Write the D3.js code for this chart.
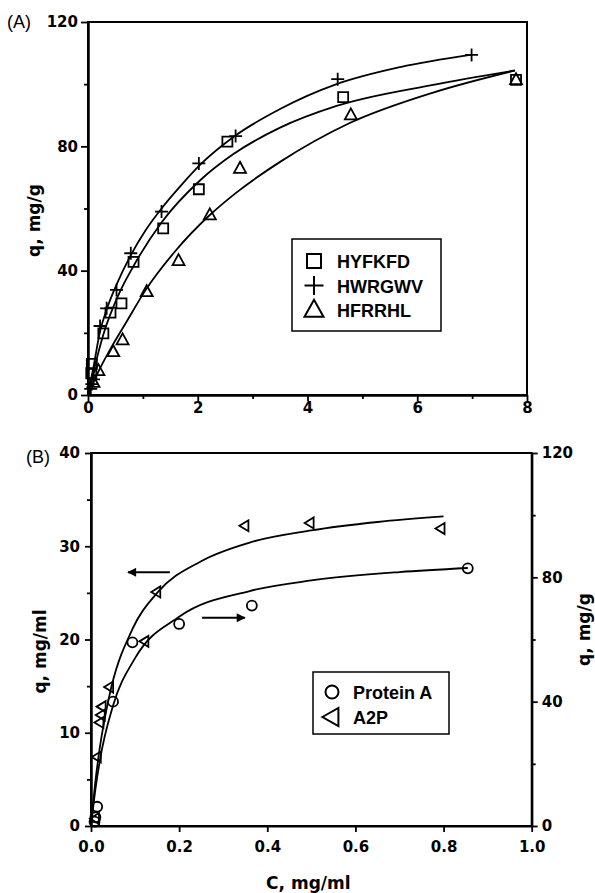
<!DOCTYPE html>
<html>
<head>
<meta charset="utf-8">
<style>
body { margin: 0; background: #fff; }
text { fill: #000; }
</style>
</head>
<body>
<script src="https://cdn.jsdelivr.net/npm/d3@7/dist/d3.min.js"></script>
<div id="chart"></div>
<script>

// ---- panel A: q (mg/g) vs C (mg/ml), three peptides ----
const hyfkfdC = [0.06, 0.07, 0.28, 0.41, 0.61, 0.83, 1.37, 2.02, 2.54, 4.65, 7.8];
const hyfkfdQ = [7, 10, 19.8, 26.5, 29.5, 42.8, 53.6, 66.2, 81.5, 95.8, 101.4];
const hwrgwvC = [0.05, 0.07, 0.1, 0.22, 0.34, 0.52, 0.78, 1.34, 2.02, 2.69, 4.55, 6.99];
const hwrgwvQ = [2, 3.5, 5, 22.2, 27.9, 33.8, 45.6, 59, 74.5, 83.3, 101.6, 109.4];
const hfrrhlC = [0.1, 0.19, 0.46, 0.63, 1.07, 1.65, 2.22, 2.77, 4.79, 7.8];
const hfrrhlQ = [4, 7.8, 13.9, 17.7, 33.2, 43.2, 57.9, 72.9, 90.1, 101.4];

// fitted curves
const hyfkfdFitC = [0, 0.1, 0.28, 0.55, 0.83, 1.34, 2.04, 2.65, 3.5, 4.53, 6.29, 7.78];
const hyfkfdFitQ = [0, 7.5, 19.5, 32, 41.5, 55.5, 69, 77.5, 86, 93, 99.8, 104.4];
const hwrgwvFitC = [0, 0.1, 0.22, 0.34, 0.52, 0.78, 1.05, 1.34, 1.7, 2.04, 2.65, 3.5, 4.53, 5.69, 7.0];
const hwrgwvFitQ = [0, 9, 20.5, 27.5, 35.5, 45, 53, 60, 67.5, 74, 83, 92, 100, 105.5, 109.5];
const hfrrhlFitC = [0, 0.1, 0.2, 0.43, 0.7, 1.04, 1.6, 2.22, 2.68, 3.5, 4.77, 6.29, 7.78];
const hfrrhlFitQ = [0, 4.1, 7.9, 15.5, 23.5, 33.5, 46.5, 57.9, 64.8, 75, 87.5, 97.3, 104.4];

const legendA = ["HYFKFD", "HWRGWV", "HFRRHL"];
const xTicksA = [0, 2, 4, 6, 8];
const xMinorA = [1, 3, 5, 7];
const yTicksA = [0, 40, 80, 120];
const yMinorA = [20, 60, 100];

// ---- panel B: Protein A (right axis, mg/g) and A2P (left axis, mg/ml) ----
const proteinAC = [0.008, 0.01, 0.014, 0.05, 0.094, 0.2, 0.365, 0.855];
const proteinAQ = [1.4, 2.8, 6.2, 40, 59.1, 65, 70.9, 82.9];
const a2pC = [0.01, 0.014, 0.02, 0.023, 0.025, 0.042, 0.122, 0.149, 0.349, 0.497, 0.794];
const a2pQ = [0.8, 7.4, 11.1, 11.9, 12.8, 14.9, 19.8, 25.1, 32.2, 32.5, 31.9];

const proteinAFitC = [0, 0.01, 0.02, 0.05, 0.1, 0.2, 0.36, 0.5, 0.7, 0.855];
const proteinAFitQ = [0, 11.8, 21, 38.7, 54, 67.3, 75.6, 79, 81.7, 83];
const a2pFitC = [0, 0.01, 0.02, 0.04, 0.094, 0.15, 0.25, 0.36, 0.5, 0.65, 0.8];
const a2pFitQ = [0, 4.8, 8.4, 13.6, 21.1, 25, 28.4, 30.4, 31.7, 32.6, 33.2];

// arrows: [C start, C end, q]
const arrowLeft = [0.179, 0.084, 27.2];   // points to left axis
const arrowRight = [0.252, 0.349, 67.0];  // points to right axis

const legendB = ["Protein A", "A2P"];
const xTicksB = [0, 0.2, 0.4, 0.6, 0.8, 1.0];
const yTicksBL = [0, 10, 20, 30, 40];
const yMinorBL = [5, 15, 25, 35];
const yTicksBR = [0, 40, 80, 120];
const yMinorBR = [20, 60, 100];

const width = 595, height = 893;
const tickFont = "bold 15px 'DejaVu Sans', sans-serif";
const titleFont = "bold 17px 'DejaVu Sans', sans-serif";
const legFont = "bold 18px 'Liberation Sans', Arial, sans-serif";

const svg = d3.select("#chart")
  .append("svg")
    .attr("width", width)
    .attr("height", height);

const zip = (a, b) => a.map((v, i) => [v, b[i]]);

// marker shapes
const sq = s => `M${-s},${-s}h${2*s}v${2*s}h${-2*s}Z`;
const plus = s => `M${-s},0H${s}M0,${-s}V${s}`;
const triUp = (w, h) => `M0,${-h*0.6}L${w/2},${h*0.4}L${-w/2},${h*0.4}Z`;
const triLeft = (w, h) => `M${-w*0.6},0L${w*0.4},${-h/2}L${w*0.4},${h/2}Z`;

function styleAxis(g, font) {
  g.select(".domain").attr("stroke-width", 2);
  g.selectAll(".tick line").attr("stroke-width", 1.8);
  g.selectAll(".tick text").style("font", font).attr("fill", "#000");
}

// ================= panel A =================
const A = {left: 88, right: 527, top: 22, bottom: 395};
const xA = d3.scaleLinear().domain([0, 8]).range([A.left, A.right]);
const yA = d3.scaleLinear().domain([0, 120]).range([A.bottom, A.top]);

svg.append("rect")
  .attr("x", A.left).attr("y", A.top)
  .attr("width", A.right - A.left).attr("height", A.bottom - A.top)
  .attr("fill", "none").attr("stroke", "#000").attr("stroke-width", 2);

svg.append("g").attr("transform", `translate(0,${A.bottom})`)
  .call(d3.axisBottom(xA).tickValues(xTicksA).tickSize(6).tickSizeOuter(0).tickPadding(1))
  .call(g => styleAxis(g, tickFont));
svg.append("g").attr("transform", `translate(0,${A.bottom})`)
  .call(d3.axisBottom(xA).tickValues(xMinorA).tickSize(4).tickSizeOuter(0).tickFormat(""))
  .call(g => styleAxis(g, tickFont));
svg.append("g").attr("transform", `translate(${A.left},0)`)
  .call(d3.axisLeft(yA).tickValues(yTicksA).tickSize(7).tickSizeOuter(0).tickPadding(3))
  .call(g => styleAxis(g, tickFont));
svg.append("g").attr("transform", `translate(${A.left},0)`)
  .call(d3.axisLeft(yA).tickValues(yMinorA).tickSize(4).tickSizeOuter(0).tickFormat(""))
  .call(g => styleAxis(g, tickFont));

const lineA = d3.line().x(d => xA(d[0])).y(d => yA(d[1])).curve(d3.curveMonotoneX);
[[hyfkfdFitC, hyfkfdFitQ], [hwrgwvFitC, hwrgwvFitQ], [hfrrhlFitC, hfrrhlFitQ]].forEach(([c, q]) => {
  svg.append("path")
    .attr("d", lineA(zip(c, q)))
    .attr("fill", "none").attr("stroke", "#000").attr("stroke-width", 1.8);
});

const seriesA = [
  {c: hyfkfdC, q: hyfkfdQ, shape: sq(5)},
  {c: hwrgwvC, q: hwrgwvQ, shape: plus(6.5)},
  {c: hfrrhlC, q: hfrrhlQ, shape: triUp(12, 11)}
];
seriesA.forEach(s => {
  svg.append("g").selectAll("path")
    .data(zip(s.c, s.q))
    .join("path")
      .attr("transform", d => `translate(${xA(d[0])},${yA(d[1])})`)
      .attr("d", s.shape)
      .attr("fill", "none").attr("stroke", "#000").attr("stroke-width", 1.8);
});

svg.append("text").attr("x", 7).attr("y", 28)
  .style("font", "18px 'Liberation Sans', Arial, sans-serif").text("(A)");

svg.append("text")
  .attr("transform", `translate(40,${(A.top + A.bottom) / 2 + 12}) rotate(-90)`)
  .attr("text-anchor", "middle")
  .style("font", titleFont).text("q, mg/g");

// legend A
const legA = svg.append("g").attr("transform", "translate(292,239)");
legA.append("rect").attr("width", 149).attr("height", 92)
  .attr("fill", "#fff").attr("stroke", "#000").attr("stroke-width", 1.5);
const legShapesA = [sq(7), plus(9.5), triUp(19, 17)];
legendA.forEach((name, i) => {
  const cy = 22 + i * 24.5;
  legA.append("path").attr("transform", `translate(22,${cy})`)
    .attr("d", legShapesA[i])
    .attr("fill", "none").attr("stroke", "#000").attr("stroke-width", 2);
  legA.append("text").attr("x", 45).attr("y", cy + 7)
    .style("font", legFont).text(name);
});

// ================= panel B =================
const B = {left: 91, right: 531.7, top: 453, bottom: 826};
const xB = d3.scaleLinear().domain([0, 1]).range([B.left, B.right]);
const yBL = d3.scaleLinear().domain([0, 40]).range([B.bottom, B.top]);
const yBR = d3.scaleLinear().domain([0, 120]).range([B.bottom, B.top]);

svg.append("rect")
  .attr("x", B.left).attr("y", B.top)
  .attr("width", B.right - B.left).attr("height", B.bottom - B.top)
  .attr("fill", "none").attr("stroke", "#000").attr("stroke-width", 2);

svg.append("g").attr("transform", `translate(0,${B.bottom})`)
  .call(d3.axisBottom(xB).tickValues(xTicksB).tickSize(6).tickSizeOuter(0).tickPadding(9).tickFormat(d3.format(".1f")))
  .call(g => styleAxis(g, tickFont));
svg.append("g").attr("transform", `translate(${B.left},0)`)
  .call(d3.axisLeft(yBL).tickValues(yTicksBL).tickSize(6).tickSizeOuter(0).tickPadding(5))
  .call(g => styleAxis(g, tickFont));
svg.append("g").attr("transform", `translate(${B.left},0)`)
  .call(d3.axisLeft(yBL).tickValues(yMinorBL).tickSize(4).tickSizeOuter(0).tickFormat(""))
  .call(g => styleAxis(g, tickFont));
svg.append("g").attr("transform", `translate(${B.right},0)`)
  .call(d3.axisRight(yBR).tickValues(yTicksBR).tickSize(6).tickSizeOuter(0).tickPadding(4))
  .call(g => styleAxis(g, tickFont));
svg.append("g").attr("transform", `translate(${B.right},0)`)
  .call(d3.axisRight(yBR).tickValues(yMinorBR).tickSize(4).tickSizeOuter(0).tickFormat(""))
  .call(g => styleAxis(g, tickFont));

const lineBL = d3.line().x(d => xB(d[0])).y(d => yBL(d[1])).curve(d3.curveMonotoneX);
const lineBR = d3.line().x(d => xB(d[0])).y(d => yBR(d[1])).curve(d3.curveMonotoneX);
svg.append("path").attr("d", lineBL(zip(a2pFitC, a2pFitQ)))
  .attr("fill", "none").attr("stroke", "#000").attr("stroke-width", 1.8);
svg.append("path").attr("d", lineBR(zip(proteinAFitC, proteinAFitQ)))
  .attr("fill", "none").attr("stroke", "#000").attr("stroke-width", 1.8);

svg.append("g").selectAll("path")
  .data(zip(a2pC, a2pQ))
  .join("path")
    .attr("transform", d => `translate(${xB(d[0])},${yBL(d[1])})`)
    .attr("d", triLeft(9, 11))
    .attr("fill", "none").attr("stroke", "#000").attr("stroke-width", 1.8);
svg.append("g").selectAll("circle")
  .data(zip(proteinAC, proteinAQ))
  .join("circle")
    .attr("cx", d => xB(d[0])).attr("cy", d => yBR(d[1])).attr("r", 5)
    .attr("fill", "none").attr("stroke", "#000").attr("stroke-width", 1.8);

// arrows
const defs = svg.append("defs");
defs.append("marker").attr("id", "head")
  .attr("viewBox", "0 0 10 10").attr("refX", 9).attr("refY", 5)
  .attr("markerWidth", 15).attr("markerHeight", 9).attr("markerUnits", "userSpaceOnUse")
  .attr("orient", "auto")
  .append("path").attr("d", "M0,0L10,5L0,10Z").attr("fill", "#000");
svg.append("line")
  .attr("x1", xB(arrowLeft[0])).attr("x2", xB(arrowLeft[1]))
  .attr("y1", yBL(arrowLeft[2])).attr("y2", yBL(arrowLeft[2]))
  .attr("stroke", "#000").attr("stroke-width", 2).attr("marker-end", "url(#head)");
svg.append("line")
  .attr("x1", xB(arrowRight[0])).attr("x2", xB(arrowRight[1]))
  .attr("y1", yBR(arrowRight[2])).attr("y2", yBR(arrowRight[2]))
  .attr("stroke", "#000").attr("stroke-width", 2).attr("marker-end", "url(#head)");

svg.append("text").attr("x", 26).attr("y", 463)
  .style("font", "18px 'Liberation Sans', Arial, sans-serif").text("(B)");

svg.append("text")
  .attr("transform", `translate(46,${(B.top + B.bottom) / 2 + 12}) rotate(-90)`)
  .attr("text-anchor", "middle")
  .style("font", titleFont).text("q, mg/ml");
svg.append("text")
  .attr("transform", `translate(590,${(B.top + B.bottom) / 2 - 10}) rotate(-90)`)
  .attr("text-anchor", "middle")
  .style("font", titleFont).text("q, mg/g");
svg.append("text")
  .attr("x", (B.left + B.right) / 2 - 3).attr("y", 889)
  .attr("text-anchor", "middle")
  .style("font", titleFont).text("C, mg/ml");

// legend B
const legB = svg.append("g").attr("transform", "translate(313,672)");
legB.append("rect").attr("width", 136).attr("height", 62)
  .attr("fill", "#fff").attr("stroke", "#000").attr("stroke-width", 1.5);
legB.append("circle").attr("cx", 19).attr("cy", 20).attr("r", 6.5)
  .attr("fill", "none").attr("stroke", "#000").attr("stroke-width", 2);
legB.append("path").attr("transform", "translate(19,45)")
  .attr("d", triLeft(16, 18))
  .attr("fill", "none").attr("stroke", "#000").attr("stroke-width", 2);
legendB.forEach((name, i) => {
  legB.append("text").attr("x", 40).attr("y", 26.5 + i * 25)
    .style("font", legFont).text(name);
});

</script>
</body>
</html>
